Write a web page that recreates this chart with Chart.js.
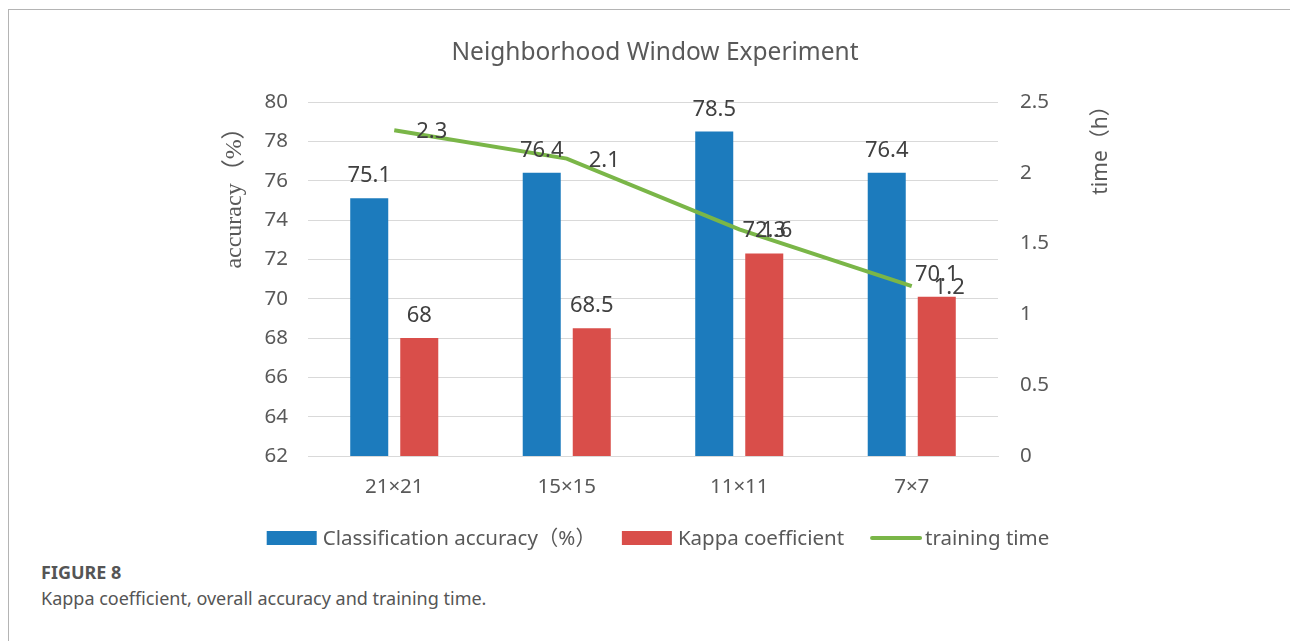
<!DOCTYPE html>
<html>
<head>
<meta charset="utf-8">
<script src="https://cdn.jsdelivr.net/npm/chart.js@4.4.1/dist/chart.umd.min.js"></script>
<style>
  html, body { margin: 0; padding: 0; background: #fff; width: 1290px; height: 641px; overflow: hidden; }
  #frame { position: absolute; left: 8px; top: 9px; right: 0; bottom: 0;
           border-top: 1px solid #b4b4b4; border-left: 1px solid #b4b4b4; }
  #wrap { position: absolute; left: 0; top: 0; width: 1290px; height: 560px; }
  .cap { position: absolute; left: 41px; color: #555; font-family: "Noto Sans", Lato, sans-serif; white-space: nowrap; }
  #capTitle { top: 560px; font-weight: bold; font-size: 18px; }
  #capText { top: 586px; font-size: 18px; }
</style>
</head>
<body>
<div id="frame"></div>
<div id="wrap"><canvas id="c"></canvas></div>
<div class="cap" id="capTitle">FIGURE 8</div>
<div class="cap" id="capText">Kappa coefficient, overall accuracy and training time.</div>
<script>
// Window sizes compared in the experiment
const categories = ['21×21', '15×15', '11×11', '7×7'];
// Classification accuracy (%)
const accuracyValues = [75.1, 76.4, 78.5, 76.4];
// Kappa coefficient
const kappaValues = [68, 68.5, 72.3, 70.1];
// Training time (h)
const timeValues = [2.3, 2.1, 1.6, 1.2];
const seriesNames = ['Classification accuracy（%）', 'Kappa coefficient', 'training time'];
// Axis ticks
const accuracyTicks = [62, 64, 66, 68, 70, 72, 74, 76, 78, 80];
const timeTicks = [0, 0.5, 1, 1.5, 2, 2.5];

const chartTitle = 'Neighborhood Window Experiment';
const leftAxisTitle = 'accuracy（%）';
const rightAxisTitle = 'time（h）';

const FONT = '"Noto Sans", "Noto Sans CJK SC", sans-serif';
const TEXT_DARK = '#404040';
const TEXT_MID = '#595959';
const BLUE = '#1c7bbd';
const RED = '#d94e4a';
const GREEN = '#7ab648';

// Value labels, title, axis titles and legend
const annotate = {
  id: 'annotate',
  afterDatasetsDraw(chart) {
    const ctx = chart.ctx;
    ctx.save();
    ctx.fillStyle = TEXT_DARK;
    ctx.font = '22px ' + FONT;
    ctx.textBaseline = 'alphabetic';
    ctx.textAlign = 'center';
    [0, 1].forEach(di => {
      const ds = chart.data.datasets[di];
      chart.getDatasetMeta(di).data.forEach((bar, i) => {
        ctx.fillText(String(ds.data[i]), bar.x, bar.y - 16);
      });
    });
    ctx.textAlign = 'left';
    const lds = chart.data.datasets[2];
    chart.getDatasetMeta(2).data.forEach((pt, i) => {
      ctx.fillText(String(lds.data[i]), pt.x + 22, pt.y + 8);
    });
    ctx.restore();
  },
  afterDraw(chart) {
    const ctx = chart.ctx;
    const area = chart.chartArea;
    ctx.save();
    // chart title
    ctx.fillStyle = TEXT_MID;
    ctx.font = '24.5px ' + FONT;
    ctx.textAlign = 'center';
    ctx.textBaseline = 'middle';
    ctx.fillText(chartTitle, 655, 53);

    // left axis title
    ctx.save();
    ctx.translate(area.left - 73, 192);
    ctx.rotate(-Math.PI / 2);
    ctx.font = '24px "Liberation Serif", "Noto Sans CJK SC", serif';
    ctx.fillText(leftAxisTitle, 0, 0);
    ctx.restore();

    // right axis title
    ctx.save();
    ctx.translate(area.right + 103, 145);
    ctx.rotate(-Math.PI / 2);
    ctx.font = '21px ' + FONT;
    ctx.fillText(rightAxisTitle, 0, 0);
    ctx.restore();

    // legend
    ctx.font = '20.5px ' + FONT;
    ctx.textBaseline = 'middle';
    ctx.textAlign = 'left';
    const items = chart.data.datasets.map(ds => ({
      label: ds.label, color: ds.type === 'line' ? ds.borderColor : ds.backgroundColor, line: ds.type === 'line'
    }));
    const boxW = 50, lineW = 52, gapBox = 6, gapLine = 3, spacing = 26;
    let total = 0;
    items.forEach((it, k) => {
      it.w = ctx.measureText(it.label).width;
      total += (it.line ? lineW + gapLine : boxW + gapBox) + it.w + (k < items.length - 1 ? spacing : 0);
    });
    let x = 658 - total / 2;
    const y = 538;
    items.forEach(it => {
      if (it.line) {
        ctx.strokeStyle = it.color;
        ctx.lineWidth = 4;
        ctx.lineCap = 'round';
        ctx.beginPath();
        ctx.moveTo(x + 2, y);
        ctx.lineTo(x + lineW - 2, y);
        ctx.stroke();
        x += lineW + gapLine;
      } else {
        ctx.fillStyle = it.color;
        ctx.fillRect(x, y - 7, boxW, 14);
        x += boxW + gapBox;
      }
      ctx.fillStyle = TEXT_MID;
      ctx.fillText(it.label, x, y + 1);
      x += it.w + spacing;
    });
    ctx.restore();
  }
};

const tickFont = { family: FONT, size: 20.5 };

new Chart(document.getElementById('c'), {
  data: {
    labels: categories,
    datasets: [
      { type: 'bar', label: seriesNames[0], data: accuracyValues, backgroundColor: BLUE,
        yAxisID: 'y', order: 2, categoryPercentage: 0.58, barPercentage: 0.76 },
      { type: 'bar', label: seriesNames[1], data: kappaValues, backgroundColor: RED,
        yAxisID: 'y', order: 2, categoryPercentage: 0.58, barPercentage: 0.76 },
      { type: 'line', label: seriesNames[2], data: timeValues, borderColor: GREEN, backgroundColor: GREEN,
        borderWidth: 4, pointRadius: 0, tension: 0, yAxisID: 'y2', order: 1 }
    ]
  },
  options: {
    responsive: true,
    maintainAspectRatio: false,
    animation: false,
    layout: { padding: { top: 102, bottom: 54, left: 0, right: 0 } },
    plugins: { legend: { display: false }, tooltip: { enabled: false }, title: { display: false } },
    scales: {
      x: {
        grid: { display: false, drawTicks: false },
        border: { display: true, color: '#d9d9d9', width: 1 },
        ticks: { color: TEXT_MID, font: tickFont, padding: 19 },
        afterFit: s => { s.height = 50; }
      },
      y: {
        position: 'left',
        min: accuracyTicks[0],
        max: accuracyTicks[accuracyTicks.length - 1],
        afterBuildTicks: s => { s.ticks = accuracyTicks.map(v => ({ value: v })); },
        grid: { color: '#d9d9d9', lineWidth: 1, drawTicks: false },
        border: { display: false },
        ticks: { color: TEXT_MID, font: tickFont, padding: 20, callback: v => String(v) },
        afterFit: s => { s.width = 308; }
      },
      y2: {
        position: 'right',
        min: timeTicks[0],
        max: timeTicks[timeTicks.length - 1],
        afterBuildTicks: s => { s.ticks = timeTicks.map(v => ({ value: v })); },
        grid: { display: false, drawTicks: false },
        border: { display: false },
        ticks: { color: TEXT_MID, font: tickFont, padding: 22, callback: v => String(v) },
        afterFit: s => { s.width = 292; }
      }
    }
  },
  plugins: [annotate]
});
</script>
</body>
</html>
